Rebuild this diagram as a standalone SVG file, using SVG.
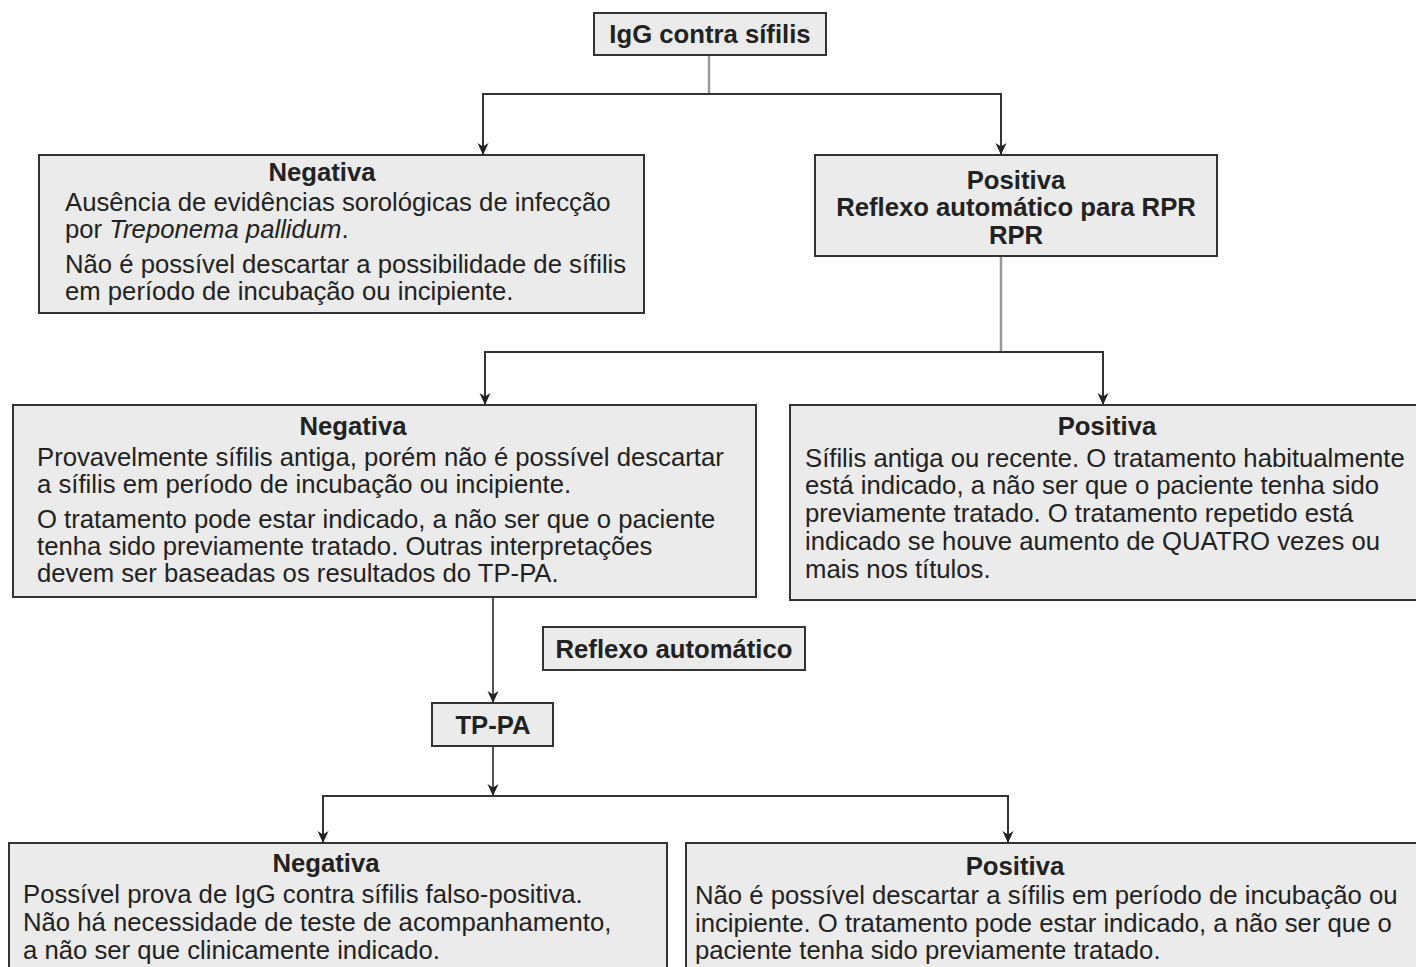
<svg xmlns="http://www.w3.org/2000/svg" width="1416" height="967" viewBox="0 0 1416 967">
  <defs>
    <marker id="arrow" viewBox="0 0 12 14" refX="12" refY="7" markerWidth="12" markerHeight="14" markerUnits="userSpaceOnUse" orient="auto">
      <path d="M0,1.5 L12,7 L0,12.5 L3.5,7 Z" fill="#222"/>
    </marker>
    <style>
      .box { fill: #ebebeb; stroke: #333; stroke-width: 2; }
      .t { font-family: "Liberation Sans", Arial, sans-serif; font-size: 25.7px; fill: #222; }
      .b { font-weight: bold; }
      .c { text-anchor: middle; }
      .stem { stroke: #999; stroke-width: 2.5; fill: none; }
      .lead { stroke: #555; stroke-width: 2; fill: none; }
      .wire { stroke: #333; stroke-width: 2; fill: none; }
    </style>
  </defs>
  <rect width="1416" height="967" fill="#fff"/>

  <g id="connectors">
    <line class="stem" x1="709" y1="55" x2="709" y2="94"/>
    <path class="wire" d="M483,140 V94 H1001 V140"/>
    <line class="wire" x1="483" y1="120" x2="483" y2="155" marker-end="url(#arrow)"/>
    <line class="wire" x1="1001" y1="120" x2="1001" y2="155" marker-end="url(#arrow)"/>

    <line class="stem" x1="1001" y1="256" x2="1001" y2="352"/>
    <path class="wire" d="M485,390 V352 H1103 V390"/>
    <line class="wire" x1="485" y1="380" x2="485" y2="405" marker-end="url(#arrow)"/>
    <line class="wire" x1="1103" y1="380" x2="1103" y2="405" marker-end="url(#arrow)"/>

    <line class="lead" x1="493" y1="597" x2="493" y2="703" marker-end="url(#arrow)"/>
    <line class="lead" x1="493" y1="746" x2="493" y2="796" marker-end="url(#arrow)"/>
    <path class="wire" d="M323,830 V796 H1008 V830"/>
    <line class="wire" x1="323" y1="820" x2="323" y2="843" marker-end="url(#arrow)"/>
    <line class="wire" x1="1008" y1="820" x2="1008" y2="843" marker-end="url(#arrow)"/>
  </g>

  <g id="igg">
    <rect class="box" x="594" y="13" width="232" height="42"/>
    <text class="t b c" x="710" y="43">IgG contra sífilis</text>
  </g>

  <g id="neg1">
    <rect class="box" x="39" y="155" width="605" height="158"/>
    <text class="t b c" x="322" y="181">Negativa</text>
    <text class="t" x="65" y="211">Ausência de evidências sorológicas de infecção</text>
    <text class="t" x="65" y="238">por <tspan font-style="italic">Treponema pallidum</tspan>.</text>
    <text class="t" x="65" y="273">Não é possível descartar a possibilidade de sífilis</text>
    <text class="t" x="65" y="300">em período de incubação ou incipiente.</text>
  </g>

  <g id="pos1">
    <rect class="box" x="815" y="155" width="402" height="101"/>
    <text class="t b c" x="1016" y="189">Positiva</text>
    <text class="t b c" x="1016" y="216">Reflexo automático para RPR</text>
    <text class="t b c" x="1016" y="244">RPR</text>
  </g>

  <g id="neg2">
    <rect class="box" x="13" y="405" width="743" height="192"/>
    <text class="t b c" x="353" y="435">Negativa</text>
    <text class="t" x="37" y="466">Provavelmente sífilis antiga, porém não é possível descartar</text>
    <text class="t" x="37" y="493">a sífilis em período de incubação ou incipiente.</text>
    <text class="t" x="37" y="528">O tratamento pode estar indicado, a não ser que o paciente</text>
    <text class="t" x="37" y="555">tenha sido previamente tratado. Outras interpretações</text>
    <text class="t" x="37" y="582">devem ser baseadas os resultados do TP-PA.</text>
  </g>

  <g id="pos2">
    <rect class="box" x="790" y="405" width="640" height="195"/>
    <text class="t b c" x="1107" y="435">Positiva</text>
    <text class="t" x="805" y="467">Sífilis antiga ou recente. O tratamento habitualmente</text>
    <text class="t" x="805" y="494">está indicado, a não ser que o paciente tenha sido</text>
    <text class="t" x="805" y="522">previamente tratado. O tratamento repetido está</text>
    <text class="t" x="805" y="550">indicado se houve aumento de QUATRO vezes ou</text>
    <text class="t" x="805" y="578">mais nos títulos.</text>
  </g>

  <g id="reflexo">
    <rect class="box" x="543" y="627" width="262" height="43"/>
    <text class="t b c" x="674" y="658">Reflexo automático</text>
  </g>

  <g id="tppa">
    <rect class="box" x="432" y="703" width="121" height="43"/>
    <text class="t b c" x="493" y="734">TP-PA</text>
  </g>

  <g id="neg3">
    <rect class="box" x="9" y="843" width="658" height="150"/>
    <text class="t b c" x="326" y="872">Negativa</text>
    <text class="t" x="23" y="903">Possível prova de IgG contra sífilis falso-positiva.</text>
    <text class="t" x="23" y="931">Não há necessidade de teste de acompanhamento,</text>
    <text class="t" x="23" y="959">a não ser que clinicamente indicado.</text>
  </g>

  <g id="pos3">
    <rect class="box" x="686" y="843" width="740" height="150"/>
    <text class="t b c" x="1015" y="875">Positiva</text>
    <text class="t" x="695" y="904">Não é possível descartar a sífilis em período de incubação ou</text>
    <text class="t" x="695" y="932">incipiente. O tratamento pode estar indicado, a não ser que o</text>
    <text class="t" x="695" y="959">paciente tenha sido previamente tratado.</text>
  </g>
</svg>
